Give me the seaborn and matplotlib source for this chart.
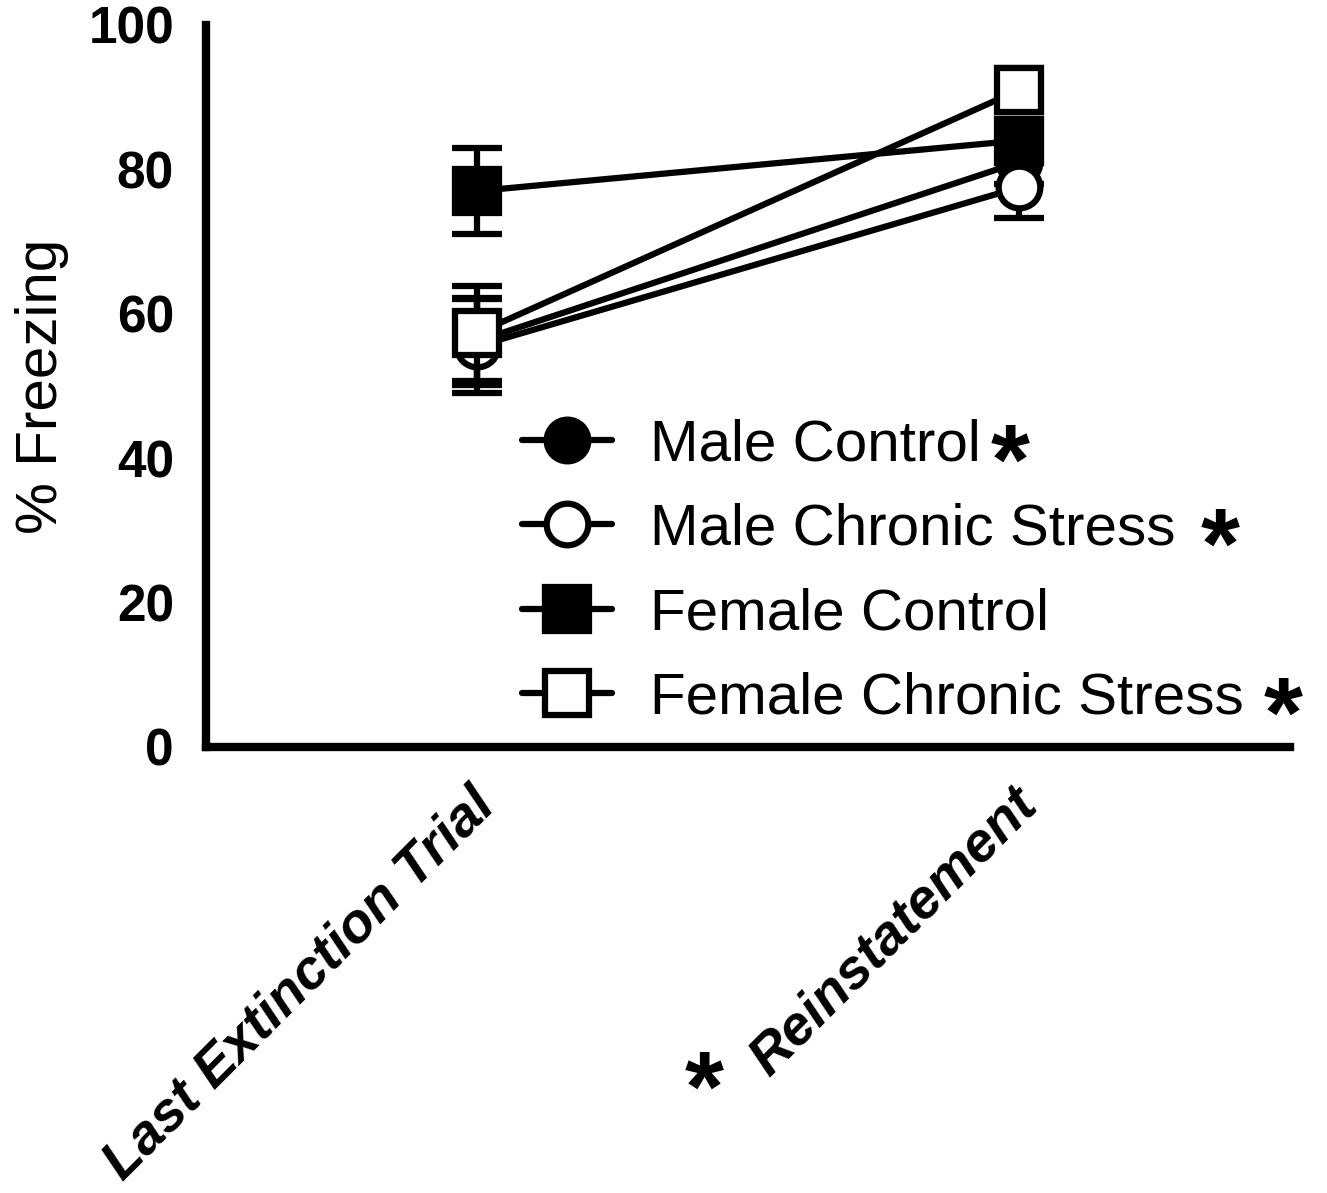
import matplotlib
matplotlib.use("Agg")
import matplotlib.pyplot as plt
from matplotlib.transforms import IdentityTransform, ScaledTranslation
import seaborn as sns
import pandas as pd

# ---------------- data ----------------
phases = ["Last Extinction Trial", "Reinstatement"]
groups = ["Male Control", "Male Chronic Stress", "Female Control", "Female Chronic Stress"]
male_control = [56.2, 81.0]
male_control_sem = [6.0, 3.0]
male_stress = [55.5, 77.5]
male_stress_sem = [6.5, 4.3]
female_control = [77.0, 84.0]
female_control_sem = [6.0, 3.0]
female_stress = [57.3, 91.0]
female_stress_sem = [6.6, 3.0]
legend_star = [True, True, False, True]
tick_star = [False, True]

means = [male_control, male_stress, female_control, female_stress]
sems = [male_control_sem, male_stress_sem, female_control_sem, female_stress_sem]
markers = ["o", "o", "s", "s"]
filled = [True, False, True, False]

sns.set_theme(style="white")
plt.rcParams["font.family"] = ["Liberation Sans", "DejaVu Sans"]
for k in ["text.color", "axes.labelcolor", "xtick.color", "ytick.color", "axes.edgecolor"]:
    plt.rcParams[k] = "black"

W, H, DPI = 1327, 1193, 100
fig = plt.figure(figsize=(W / DPI, H / DPI), dpi=DPI)
ax = fig.add_axes([206 / W, 1 - 747 / H, (1290 - 206) / W, (747 - 25) / H])

LW = 4.5
for i, g in enumerate(groups):
    df = pd.DataFrame({"phase": phases, "freezing": means[i], "sem": sems[i]})
    ax.errorbar(df["phase"], df["freezing"], yerr=df["sem"], fmt="none",
                ecolor="black", elinewidth=LW, capsize=18, capthick=LW,
                zorder=2 + 2 * i, clip_on=False)
    ms = 30 if markers[i] == "o" else 31
    sns.lineplot(data=df, x="phase", y="freezing", ax=ax, color="black",
                 marker=markers[i], markersize=ms, markeredgewidth=LW,
                 markeredgecolor="black",
                 markerfacecolor="black" if filled[i] else "white",
                 linewidth=LW, label=g, zorder=3 + 2 * i, clip_on=False,
                 sort=False)

ax.set_xlim(-0.5, 1.5)
ax.set_ylim(0, 100)
ax.set_yticks([0, 20, 40, 60, 80, 100])
ax.set_xlabel("")
ax.set_ylabel("% Freezing", fontsize=42, labelpad=14)

for s in ["top", "right"]:
    ax.spines[s].set_visible(False)
for s in ["left", "bottom"]:
    ax.spines[s].set_linewidth(6)
    ax.spines[s].set_color("black")
    ax.spines[s].set_capstyle("projecting")

ax.tick_params(axis="both", direction="out", length=19, width=5.5, color="black")
ax.tick_params(axis="y", labelsize=37, pad=4, labelcolor="black")
ax.tick_params(axis="x", labelsize=40, pad=4, labelcolor="black")
for t in ax.get_yticklabels():
    t.set_fontweight("bold")
ax.set_xticks(range(len(phases)))
ax.set_xticklabels(phases, rotation=45, ha="right", va="top",
                   rotation_mode="anchor", fontweight="bold", fontstyle="italic")
shift = ScaledTranslation(-6 / 72, 0, fig.dpi_scale_trans)
for lab in ax.get_xticklabels():
    lab.set_transform(lab.get_transform() + shift)

leg = ax.legend(loc="upper left", bbox_to_anchor=(0.2915, 0.455),
                frameon=False, fontsize=42, handlelength=1.55,
                handletextpad=0.65, labelspacing=0.52, borderpad=0,
                borderaxespad=0)
for t in leg.get_texts():
    t.set_color("black")

fig.canvas.draw()
renderer = fig.canvas.get_renderer()

STAR_FS = 72
STAR_PX = STAR_FS * DPI / 72


def star_at(cx, cy):
    # place a bold asterisk whose ink is roughly centred at (cx, cy) in pixels
    fig.text(cx, cy - 0.44 * STAR_PX, "*", transform=IdentityTransform(),
             fontsize=STAR_FS, fontweight="bold", ha="center", va="baseline",
             color="black")


star_gaps = [29, 44, 0, 39]
for txt, st, gap in zip(leg.get_texts(), legend_star, star_gaps):
    if st:
        bb = txt.get_window_extent(renderer)
        star_at(bb.x1 + gap, bb.y0 + 0.42 * bb.height)

for lab, st in zip(ax.get_xticklabels(), tick_star):
    if st:
        bb = lab.get_window_extent(renderer)
        star_at(bb.x0 - 36, bb.y0 + 10)

fig.savefig("out.png", dpi=DPI, facecolor="white")
